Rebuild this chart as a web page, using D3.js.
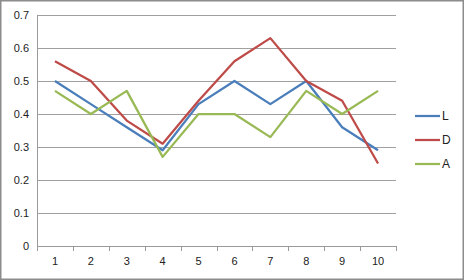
<!DOCTYPE html>
<html>
<head>
<meta charset="utf-8">
<script src="https://cdn.jsdelivr.net/npm/d3@7"></script>
<style>
  body { margin: 0; background: #fff; }
  svg { display: block; font-family: "Liberation Sans", Arial, sans-serif; }
</style>
</head>
<body>
<div id="chart"></div>
<script>
// donnees
const categories = ["1", "2", "3", "4", "5", "6", "7", "8", "9", "10"];
const serieL = [0.50, 0.43, 0.36, 0.29, 0.43, 0.50, 0.43, 0.50, 0.36, 0.29];
const serieD = [0.56, 0.50, 0.38, 0.31, 0.44, 0.56, 0.63, 0.50, 0.44, 0.25];
const serieA = [0.47, 0.40, 0.47, 0.27, 0.40, 0.40, 0.33, 0.47, 0.40, 0.47];
const yTicks = [0, 0.1, 0.2, 0.3, 0.4, 0.5, 0.6, 0.7];

const series = [
  {name: "L", values: serieL, color: "#4a7ebb"},
  {name: "D", values: serieD, color: "#be4b48"},
  {name: "A", values: serieA, color: "#98b954"}
];

const W = 464, H = 280;
const margin = {top: 15, right: 68, bottom: 34, left: 37};
const width = W - margin.left - margin.right;
const height = H - margin.top - margin.bottom;

const svg = d3.select("#chart").append("svg")
    .attr("width", W)
    .attr("height", H);

// bordure du graphique
svg.append("rect")
    .attr("x", 0.75).attr("y", 0.75)
    .attr("width", W - 1.5).attr("height", H - 1.5)
    .attr("fill", "#fff")
    .attr("stroke", "#8c8c8c")
    .attr("stroke-width", 1.5);

const g = svg.append("g")
    .attr("transform", `translate(${margin.left},${margin.top})`);

const x = d3.scaleBand().domain(categories).range([0, width]);
const y = d3.scaleLinear().domain([0, 0.7]).range([height, 0]);

// grille horizontale
g.append("g")
  .selectAll("line")
  .data(yTicks.filter(t => t > 0))
  .enter().append("line")
    .attr("x1", 0).attr("x2", width)
    .attr("y1", d => Math.round(y(d)) + 0.5)
    .attr("y2", d => Math.round(y(d)) + 0.5)
    .attr("stroke", "#a0a0a0")
    .attr("stroke-width", 1);

// axe y
const yAxis = g.append("g")
    .call(d3.axisLeft(y).tickValues(yTicks).tickFormat(d => d === 0 ? "0" : d3.format(".1f")(d)).tickSize(0).tickPadding(8));
yAxis.select(".domain").remove();
yAxis.selectAll("text").attr("font-size", 11).attr("fill", "#222");
g.append("line")
    .attr("x1", 0.5).attr("x2", 0.5)
    .attr("y1", 0).attr("y2", height)
    .attr("stroke", "#9a9a9a");

// axe x
const xAxis = g.append("g")
    .attr("transform", `translate(0,${height})`)
    .call(d3.axisBottom(x).tickSize(0).tickPadding(11));
xAxis.select(".domain").attr("stroke", "#9a9a9a").attr("d", `M0,0.5H${width}`);
xAxis.selectAll("text").attr("font-size", 11).attr("fill", "#222");
// petites graduations entre les categories
g.append("g")
  .selectAll("line")
  .data(categories.concat([""]))
  .enter().append("line")
    .attr("x1", (d, i) => Math.round(i * x.bandwidth()) + 0.5)
    .attr("x2", (d, i) => Math.round(i * x.bandwidth()) + 0.5)
    .attr("y1", height)
    .attr("y2", height + 5)
    .attr("stroke", "#9a9a9a");

// lignes
const line = d3.line()
    .x((d, i) => x(categories[i]) + x.bandwidth() / 2)
    .y(d => y(d));

series.forEach(function (s) {
    g.append("path")
        .datum(s.values)
        .attr("fill", "none")
        .attr("stroke", s.color)
        .attr("stroke-width", 2.25)
        .attr("stroke-linejoin", "round")
        .attr("d", line);
});

// legende
const legend = svg.append("g")
    .attr("transform", "translate(415,116)");
series.forEach(function (s, i) {
    const row = legend.append("g").attr("transform", `translate(0,${i * 24})`);
    row.append("line")
        .attr("x1", 0).attr("x2", 25)
        .attr("y1", 0).attr("y2", 0)
        .attr("stroke", s.color)
        .attr("stroke-width", 2.25);
    row.append("text")
        .attr("x", 27).attr("y", 4)
        .attr("font-size", 12)
        .attr("fill", "#222")
        .text(s.name);
});
</script>
</body>
</html>
